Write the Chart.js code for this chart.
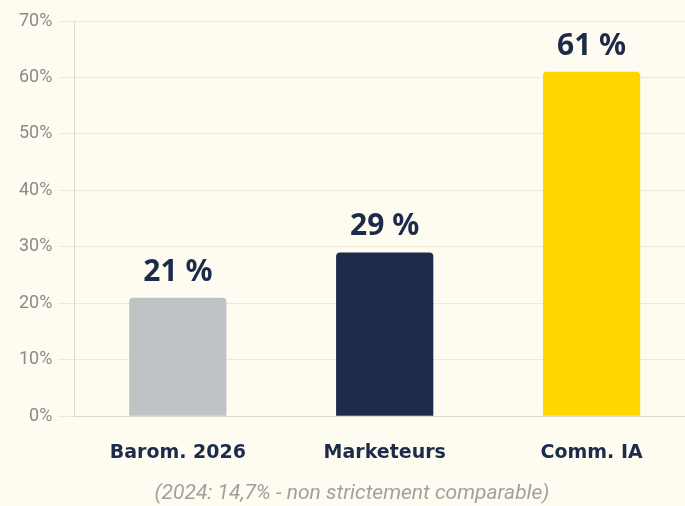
<!DOCTYPE html>
<html>
<head>
<meta charset="utf-8">
<script src="https://cdn.jsdelivr.net/npm/chart.js@4"></script>
<style>
  html, body { margin: 0; padding: 0; background: #fefcf0; overflow: hidden; }
  #cadre { width: 695px; height: 506px; }
</style>
</head>
<body>
<div id="cadre"><canvas id="grafica"></canvas></div>
<script>
const categorias = ["Barom. 2026", "Marketeurs", "Comm. IA"];
const valores = [21, 29, 61];
const colores = ["#bfc3c6", "#1c2b4a", "#ffd600"];
const etiquetasY = [0, 10, 20, 30, 40, 50, 60, 70];
const nota = "(2024: 14,7% - non strictement comparable)";

// dibuja el valor encima de cada barra y la nota de abajo
const etiquetasValor = {
  id: "etiquetasValor",
  afterDatasetsDraw(chart) {
    const ctx = chart.ctx;
    const meta = chart.getDatasetMeta(0);
    ctx.save();
    ctx.font = "bold 30px 'Noto Sans', sans-serif";
    ctx.fillStyle = "#1c2b4a";
    ctx.textAlign = "center";
    ctx.textBaseline = "alphabetic";
    meta.data.forEach((barra, i) => {
      ctx.fillText(valores[i] + " %", barra.x, barra.y - 17);
    });
    ctx.font = "italic 21px Roboto";
    ctx.fillStyle = "#a0a0a0";
    ctx.textBaseline = "middle";
    ctx.fillText(nota, 352, 494);
    ctx.restore();
  }
};

new Chart(document.getElementById("grafica"), {
  type: "bar",
  data: {
    labels: categorias,
    datasets: [{
      data: valores,
      backgroundColor: colores,
      borderRadius: 4,
      borderSkipped: "bottom",
      barPercentage: 0.47,
      categoryPercentage: 1
    }]
  },
  options: {
    responsive: true,
    maintainAspectRatio: false,
    animation: false,
    layout: { padding: { top: 21, left: 13, right: 0, bottom: 25 } },
    plugins: {
      legend: { display: false },
      tooltip: { enabled: false }
    },
    scales: {
      x: {
        grid: { display: false },
        border: { color: "#dcdad0" },
        ticks: {
          color: "#1c2b4a",
          font: { family: "'DejaVu Sans'", size: 19, weight: "bold" },
          padding: 17
        }
      },
      y: {
        min: 0,
        max: 70,
        afterBuildTicks(axis) { axis.ticks = etiquetasY.map(v => ({ value: v })); },
        grid: { color: "#ece9dc", tickLength: 16 },
        border: { color: "#dcdad0" },
        ticks: {
          color: "#8a8a8a",
          font: { family: "Roboto", size: 18 },
          padding: 6,
          callback: v => v + "%"
        }
      }
    }
  },
  plugins: [etiquetasValor]
});
</script>
</body>
</html>
